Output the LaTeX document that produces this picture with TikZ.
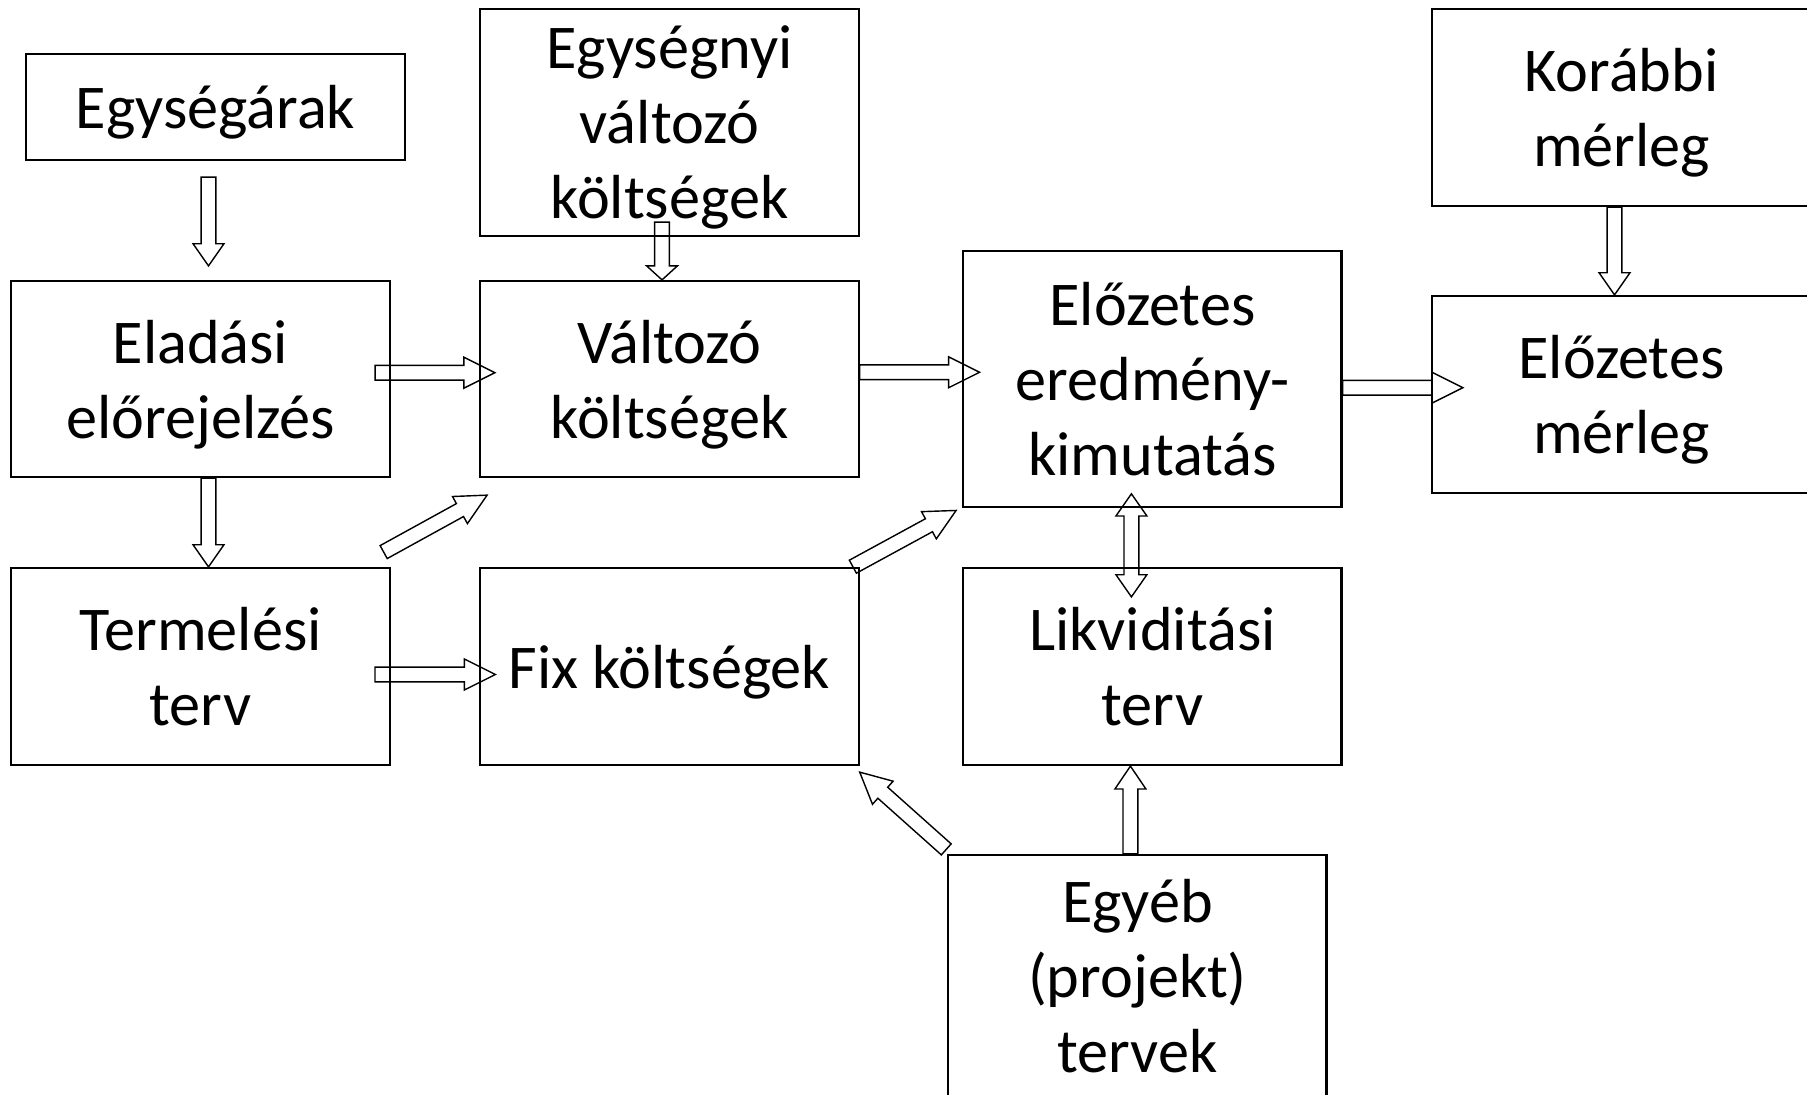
\documentclass[tikz,border=0pt]{standalone}
\usepackage{fontspec}
\setmainfont{Carlito}
\usetikzlibrary{calc}

\begin{document}
\begin{tikzpicture}[x=0.01cm, y=-0.01cm,
    box/.style={draw, line width=0.6pt, minimum width=3.78cm, align=center, inner sep=2pt,
        text depth=0pt, font=\fontsize{17.7pt}{21.3pt}\selectfont},
    blockarr/.style={draw, line width=0.4pt, to path={
        let \p1=(\tikztostart), \p2=(\tikztotarget),
            \n1={atan2(\y2-\y1,\x2-\x1)}, \n2={veclen(\x2-\x1,\y2-\y1)} in
        ([shift={(\p1)},rotate=\n1]0pt,2.1pt)
        -- ([shift={(\p1)},rotate=\n1]{\n2-#1},2.1pt)
        -- ([shift={(\p1)},rotate=\n1]{\n2-#1},4.4pt)
        -- ([shift={(\p1)},rotate=\n1]\n2,0pt)
        -- ([shift={(\p1)},rotate=\n1]{\n2-#1},-4.4pt)
        -- ([shift={(\p1)},rotate=\n1]{\n2-#1},-2.1pt)
        -- ([shift={(\p1)},rotate=\n1]0pt,-2.1pt) -- cycle}},
    blockarr/.default=8.8pt,
    blockdbl/.style={draw, line width=0.4pt, to path={
        let \p1=(\tikztostart), \p2=(\tikztotarget),
            \n1={atan2(\y2-\y1,\x2-\x1)}, \n2={veclen(\x2-\x1,\y2-\y1)} in
        ([shift={(\p1)},rotate=\n1]#1,2.1pt)
        -- ([shift={(\p1)},rotate=\n1]{\n2-#1},2.1pt)
        -- ([shift={(\p1)},rotate=\n1]{\n2-#1},4.4pt)
        -- ([shift={(\p1)},rotate=\n1]\n2,0pt)
        -- ([shift={(\p1)},rotate=\n1]{\n2-#1},-4.4pt)
        -- ([shift={(\p1)},rotate=\n1]{\n2-#1},-2.1pt)
        -- ([shift={(\p1)},rotate=\n1]#1,-2.1pt)
        -- ([shift={(\p1)},rotate=\n1]#1,-4.4pt)
        -- ([shift={(\p1)},rotate=\n1]0pt,0pt)
        -- ([shift={(\p1)},rotate=\n1]#1,4.4pt) -- cycle}},
    blockdbl/.default=6.3pt]
\useasboundingbox (0,0) rectangle (1807,1095);
\clip (0,0) rectangle (1807,1095);

% boxes
\node[box, minimum height=1.06cm] (egysegar) at (215.5,107) {Egységárak};
\node[box, minimum height=2.27cm] (egysegnyi) at (669.5,122.5) {Egységnyi\\változó\\költségek};
\node[box, minimum height=1.97cm] (korabbi) at (1621.5,107.5) {Korábbi\\mérleg};
\node[box, minimum height=1.96cm] (eladas) at (200.5,379) {Eladási\\előrejelzés};
\node[box, minimum height=1.96cm] (valtozo) at (669.5,379) {Változó\\költségek};
\node[box, minimum height=2.56cm] (elozetes) at (1152.4,379) {Előzetes\\eredmény-\\kimutatás};
\node[box, minimum height=1.97cm] (elozmerleg) at (1621.5,394.5) {Előzetes\\mérleg};
\node[box, minimum height=1.97cm] (termelesi) at (200.5,666.5) {Termelési\\terv};
\node[box, minimum height=1.97cm] (fix) at (669.5,666.5) {Fix költségek};
\node[box, minimum height=1.97cm] (likvid) at (1152.4,666.5) {Likviditási\\terv};
\node[box, minimum height=2.42cm] (egyeb) at (1137.4,976) {Egyéb\\(projekt)\\tervek};

% arrows
\draw[blockarr=6.3pt] ($(egysegar.south)+(-7,16)$) to ($(eladas.north)+(8,-14)$);
\draw[blockarr=6.3pt] ($(eladas.south)+(8,0)$) to ($(termelesi.north)+(8,0)$);
\draw[blockarr] ($(eladas.east)+(-15.5,-6.3)$) to ($(valtozo.west)+(15.5,-6.3)$);
\draw[blockarr=4pt] ($(egysegnyi.south)+(-7.5,-15)$) to ($(valtozo.north)+(-7.5,0)$);
\draw[blockarr] ($(valtozo.east)+(0,-6.7)$) to ($(elozetes.west)+(17.3,-6.7)$);
\draw[blockarr] ($(elozetes.east)+(0,8.7)$) to ($(elozmerleg.west)+(31.5,-6.8)$);
\draw[blockarr=6.3pt] ($(korabbi.south)+(-7,0)$) to ($(elozmerleg.north)+(-7,0)$);
\draw[blockarr] ($(termelesi.east)+(-15.7,8)$) to ($(fix.west)+(16,8)$);
\draw[blockarr] ($(termelesi.north east)+(-7,-14.8)$) to ($(valtozo.south west)+(7.8,17)$);
\draw[blockarr] ($(fix.north east)+(-6.8,-0.2)$) to ($(elozetes.south west)+(-6.1,2.3)$);
\draw[blockdbl] ($(elozetes.south)+(-21,-14.3)$) to ($(likvid.north)+(-21,30)$);
\draw[blockarr=6.5pt] ($(egyeb.north)+(-7,0)$) to ($(likvid.south)+(-22,0)$);
\draw[blockarr] ($(egyeb.north west)+(-1,-4.5)$) to ($(fix.south east)+(0,6)$);

\end{tikzpicture}
\end{document}
